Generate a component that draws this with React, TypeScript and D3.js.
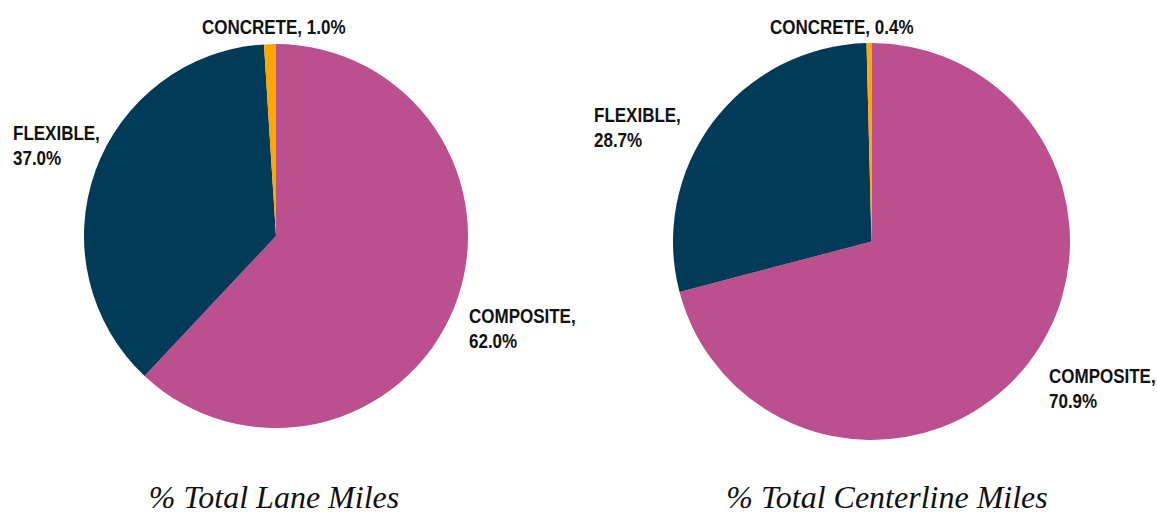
import React from "react";
import * as d3 from "d3";

const categories = ["COMPOSITE", "FLEXIBLE", "CONCRETE"];
const laneMiles = [62.0, 37.0, 1.0];
const centerlineMiles = [70.9, 28.7, 0.4];
const titles = ["% Total Lane Miles", "% Total Centerline Miles"];
const colors = ["#BC4F8E", "#023B57", "#FFA600"];

const W = 1157;
const H = 516;

type PieSpec = {
  values: number[];
  cx: number;
  cy: number;
  r: number;
  title: string;
  titleX: number;
  labels: { x: number; y: number; twoLine: boolean }[];
};

const pies: PieSpec[] = [
  {
    values: laneMiles,
    cx: 276,
    cy: 236,
    r: 192,
    title: titles[0],
    titleX: 274,
    labels: [
      { x: 469, y: 323, twoLine: true },
      { x: 13, y: 140, twoLine: true },
      { x: 202, y: 34, twoLine: false },
    ],
  },
  {
    values: centerlineMiles,
    cx: 871.5,
    cy: 241.5,
    r: 198.5,
    title: titles[1],
    titleX: 887,
    labels: [
      { x: 1049, y: 383, twoLine: true },
      { x: 594, y: 122, twoLine: true },
      { x: 770, y: 34, twoLine: false },
    ],
  },
];

const labelFont = "'Liberation Sans', Arial, sans-serif";

function Pie({ spec }: { spec: PieSpec }) {
  const pie = d3
    .pie<number>()
    .sort(null)
    .value((d) => d);
  const arcs = pie(spec.values);
  const arc = d3.arc<d3.PieArcDatum<number>>().innerRadius(0).outerRadius(spec.r);
  const fmt = d3.format(".1f");
  return (
    <g>
      <g transform={`translate(${spec.cx},${spec.cy})`}>
        {arcs.map((a, i) => (
          <path key={i} d={arc(a) || ""} fill={colors[i]} />
        ))}
      </g>
      {spec.labels.map((l, i) => {
        const name = categories[i] + ",";
        const pct = fmt(spec.values[i]) + "%";
        return (
          <g key={i} transform={`translate(${l.x},${l.y}) scale(0.85,1)`}>
            <text
              fontFamily={labelFont}
              fontWeight="bold"
              fontSize={20}
              fill="#111"
            >
              {l.twoLine ? (
                <>
                  <tspan x={0} y={0}>{name}</tspan>
                  <tspan x={0} y={25}>{pct}</tspan>
                </>
              ) : (
                <tspan x={0} y={0}>{name + " " + pct}</tspan>
              )}
            </text>
          </g>
        );
      })}
      <text
        x={spec.titleX}
        y={508}
        textAnchor="middle"
        fontFamily="'Liberation Serif', 'Times New Roman', Times, serif"
        fontStyle="italic"
        fontSize={32}
        fill="#111"
      >
        {spec.title}
      </text>
    </g>
  );
}

export default function App() {
  return (
    <svg
      width={W}
      height={H}
      style={{ position: "absolute", left: 0, top: 0, background: "#fff" }}
    >
      <rect width={W} height={H} fill="#fff" />
      {pies.map((p, i) => (
        <Pie key={i} spec={p} />
      ))}
    </svg>
  );
}
